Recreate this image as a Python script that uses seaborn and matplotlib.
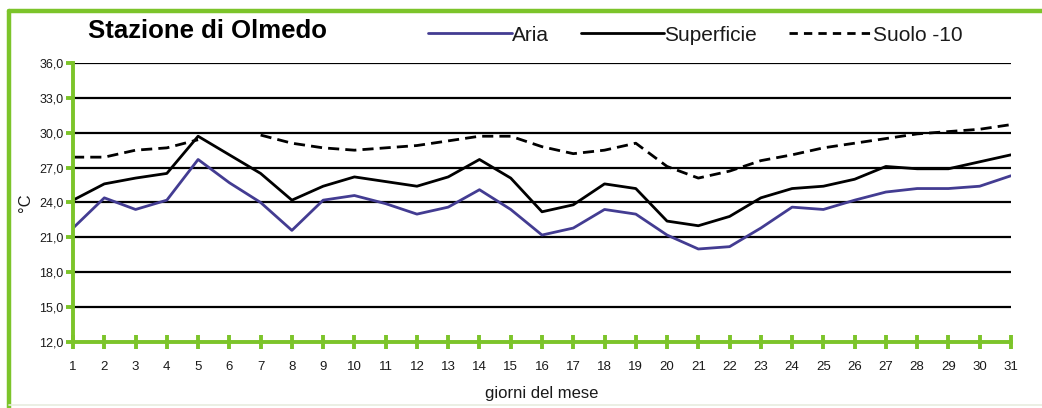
import numpy as np
import pandas as pd
import seaborn as sns
import matplotlib
matplotlib.use("Agg")
import matplotlib.pyplot as plt
from matplotlib.lines import Line2D
from matplotlib.ticker import FuncFormatter

# Daily temperatures (°C) for each day of the month
giorni = list(range(1, 32))
aria = [21.8, 24.4, 23.4, 24.2, 27.7, 25.7, 24.0, 21.6, 24.2, 24.6,
        23.9, 23.0, 23.6, 25.1, 23.4, 21.2, 21.8, 23.4, 23.0, 21.2,
        20.0, 20.2, 21.8, 23.6, 23.4, 24.2, 24.9, 25.2, 25.2, 25.4, 26.3]
superficie = [24.2, 25.6, 26.1, 26.5, 29.7, 28.1, 26.5, 24.2, 25.4, 26.2,
              25.8, 25.4, 26.2, 27.7, 26.1, 23.2, 23.8, 25.6, 25.2, 22.4,
              22.0, 22.8, 24.4, 25.2, 25.4, 26.0, 27.1, 26.9, 26.9, 27.5, 28.1]
suolo = [27.9, 27.9, 28.5, 28.7, 29.4, np.nan, 29.8, 29.1, 28.7, 28.5,
         28.7, 28.9, 29.3, 29.7, 29.7, 28.8, 28.2, 28.5, 29.1, 27.1,
         26.1, 26.7, 27.6, 28.1, 28.7, 29.1, 29.5, 29.9, 30.1, 30.3, 30.7]
serie_nomi = ["Aria", "Superficie", "Suolo -10"]
y_ticks = [12, 15, 18, 21, 24, 27, 30, 33, 36]

VERDE = "#7CC42A"
BLU = "#433C92"
TESTO = "#1a1a1a"

# Long-form table; a missing reading splits a series into separate segments
righe = []
for nome, valori in zip(serie_nomi, [aria, superficie, suolo]):
    tratto = 0
    for g, v in zip(giorni, valori):
        if np.isnan(v):
            tratto += 1
            continue
        righe.append({"giorno": g, "temperatura": v, "serie": nome,
                      "tratto": f"{nome}-{tratto}"})
df = pd.DataFrame(righe)

sns.set_theme(style="white")
plt.rcParams["font.family"] = ["Liberation Sans", "DejaVu Sans"]

fig = plt.figure(figsize=(10.42, 4.08), dpi=100)
ax = fig.add_axes([0.0701, 0.1618, 0.9001, 0.6838])

sns.lineplot(data=df, x="giorno", y="temperatura", hue="serie", style="serie",
             units="tratto", estimator=None, sort=True,
             palette={"Aria": BLU, "Superficie": "black", "Suolo -10": "black"},
             dashes={"Aria": "", "Superficie": "", "Suolo -10": (4, 2.2)},
             linewidth=2.0, ax=ax, legend=False, zorder=3)

ax.set_xlim(1, 31)
ax.set_ylim(12, 36)
ax.set_xticks(giorni)
ax.set_yticks(y_ticks)
ax.yaxis.set_major_formatter(FuncFormatter(lambda v, p: f"{v:.1f}".replace(".", ",")))

ax.grid(axis="y", color="black", linewidth=1.6, zorder=1)
ax.grid(axis="x", visible=False)
for s in ["top", "right"]:
    ax.spines[s].set_visible(False)
for s in ["left", "bottom"]:
    ax.spines[s].set_color(VERDE)
    ax.spines[s].set_linewidth(2.8)
    ax.spines[s].set_zorder(4)

ax.tick_params(axis="x", bottom=True, direction="inout", length=10, width=2.8,
               color=VERDE, pad=9, labelsize=9.5, labelcolor=TESTO)
ax.tick_params(axis="y", left=True, direction="out", length=5, width=2.8,
               color=VERDE, pad=2, labelsize=9, labelcolor=TESTO)

ax.set_xlabel("giorni del mese", fontsize=12, labelpad=9, color=TESTO)
ax.set_ylabel("°C", fontsize=12, labelpad=4, color=TESTO)

# Title and legend across the top band
fig.text(0.0845, 0.925, "Stazione di Olmedo", fontsize=18.5, fontweight="bold",
         ha="left", va="center", color="black")
handles = [Line2D([], [], color=BLU, lw=2.0),
           Line2D([], [], color="black", lw=2.0),
           Line2D([], [], color="black", lw=2.0, ls=(0, (3, 2.2)))]
fig.legend(handles, serie_nomi, loc="center left", bbox_to_anchor=(0.403, 0.914),
           ncol=3, frameon=False, fontsize=15, handlelength=4.0,
           handletextpad=0.0, columnspacing=1.55, borderaxespad=0,
           labelcolor=TESTO)

# Green frame along the top and left edge, light rule at the bottom
fig.add_artist(Line2D([0.0085, 1.0], [0.973, 0.973], transform=fig.transFigure,
                      color=VERDE, lw=3.2))
fig.add_artist(Line2D([0.0085, 0.0085], [0.0, 0.973], transform=fig.transFigure,
                      color=VERDE, lw=3.2))
fig.add_artist(Line2D([0.0085, 1.0], [0.008, 0.008], transform=fig.transFigure,
                      color="#e8ecdf", lw=1.2))

fig.savefig("out.png", dpi=100)
